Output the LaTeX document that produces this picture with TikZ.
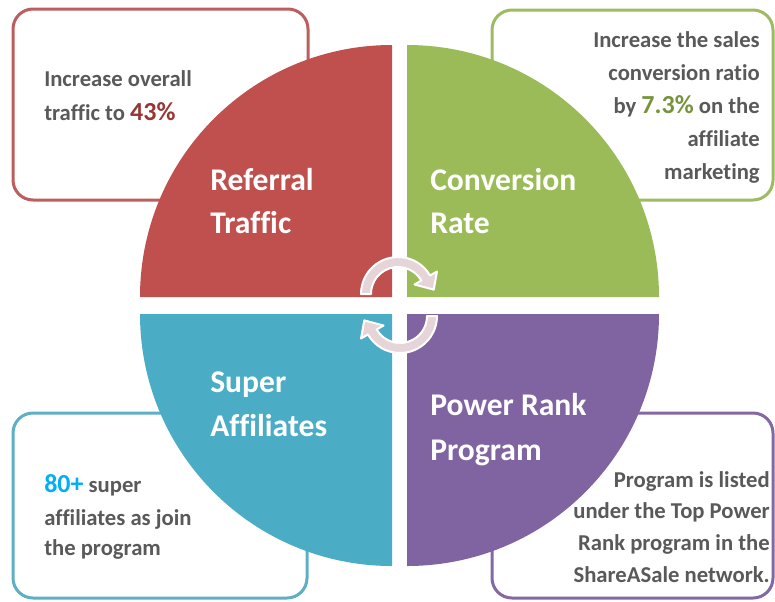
\documentclass[tikz,border=0pt]{standalone}
\usepackage{fontspec}
\setmainfont{Carlito}[Ligatures=NoCommon]
\definecolor{qred}{HTML}{C0504D}
\definecolor{qgreen}{HTML}{9BBB59}
\definecolor{qblue}{HTML}{4BACC6}
\definecolor{qpurple}{HTML}{8064A2}
\definecolor{bred}{HTML}{BD5E5E}
\definecolor{bgreen}{HTML}{9DBB62}
\definecolor{bblue}{HTML}{5EAEC4}
\definecolor{bpurple}{HTML}{8468A4}
\definecolor{txtgray}{HTML}{595959}
\definecolor{pctred}{HTML}{953735}
\definecolor{pctgreen}{HTML}{77933C}
\definecolor{pctblue}{HTML}{00B0F0}
\definecolor{bandpink}{HTML}{E6D5D8}
\begin{document}
\begin{tikzpicture}[x=0.75pt,y=-0.75pt,
  infobox/.style={line width=2.25pt, fill=white, rounded corners=15pt},
  body/.style={inner sep=0pt, text=txtgray, font=\bfseries\fontsize{17}{20}\selectfont},
  ttl/.style={inner sep=0pt, text=white, font=\bfseries\fontsize{23.7}{28}\selectfont},
  band/.style={fill=bandpink, draw=white, line width=1.5pt, line join=round}]
\useasboundingbox (0,0) rectangle (775,601);
% info boxes
\draw[infobox, draw=bred] (13,9) rectangle (308,200);
\draw[infobox, draw=bgreen] (492,10) rectangle (773,200);
\draw[infobox, draw=bblue] (13,413) rectangle (307,598);
\draw[infobox, draw=bpurple] (492,413) rectangle (773,598);
% quadrants
\fill[qred] (392,297) -- (140,297) arc[start angle=180, end angle=270, radius=252] -- cycle;
\fill[qgreen] (407,297) -- (407,45) arc[start angle=270, end angle=360, radius=252] -- cycle;
\fill[qblue] (392,314) -- (392,566) arc[start angle=90, end angle=180, radius=252] -- cycle;
\fill[qpurple] (407,314) -- (659,314) arc[start angle=0, end angle=90, radius=252] -- cycle;
% circular arrows
\begin{scope}[shift={(398,294)}]
\draw[band] (180:37) arc[start angle=180, end angle=330, radius=37] -- (330:45) -- (353:36) -- (330:19) -- (330:27) arc[start angle=330, end angle=180, radius=27] -- cycle;
\end{scope}
\begin{scope}[shift={(400,316)}]
\draw[band] (0:37) arc[start angle=0, end angle=150, radius=37] -- (150:45) -- (173:36) -- (150:19) -- (150:27) arc[start angle=150, end angle=0, radius=27] -- cycle;
\end{scope}
% titles
\node[ttl, anchor=base west] (t1a) at (210,190) {Referral};
\node[ttl, anchor=base west] (t1b) at (210,233) {Traffic};
\node[ttl, anchor=base west] (t2a) at (430,190) {Conversion};
\node[ttl, anchor=base west] (t2b) at (430,233) {Rate};
\node[ttl, anchor=base west] (t3a) at (210,392) {Super};
\node[ttl, anchor=base west] (t3b) at (210,436) {Affiliates};
\node[ttl, anchor=base west] (t4a) at (430,415) {Power Rank};
\node[ttl, anchor=base west] (t4b) at (430,460) {Program};
% red box text
\node[body, anchor=base west] (r1) at (44,86) {Increase overall};
\node[body, anchor=base west] (r2) at (44,120) {traffic to \textcolor{pctred}{\fontsize{19.5}{20}\selectfont 43\%}};
% green box text
\node[body, anchor=base east] (g1) at (760,47) {Increase the sales};
\node[body, anchor=base east] (g2) at (760,80) {conversion ratio};
\node[body, anchor=base east] (g3) at (760,113) {by \textcolor{pctgreen}{\fontsize{19.5}{20}\selectfont 7.3\%} on the};
\node[body, anchor=base east] (g4) at (760,146) {affiliate};
\node[body, anchor=base east] (g5) at (760,179) {marketing};
% blue box text
\node[body, anchor=base west] (b1) at (44,492) {\textcolor{pctblue}{\fontsize{19.5}{20}\selectfont 80+} super};
\node[body, anchor=base west] (b2) at (44,525) {affiliates as join};
\node[body, anchor=base west] (b3) at (44,555) {the program};
% purple box text
\node[body, anchor=base east] (p1) at (770,487) {Program is listed};
\node[body, anchor=base east] (p2) at (770,518) {under the Top Power};
\node[body, anchor=base east] (p3) at (770,550) {Rank program in the};
\node[body, anchor=base east] (p4) at (770,582) {ShareASale network.};
\end{tikzpicture}
\end{document}
